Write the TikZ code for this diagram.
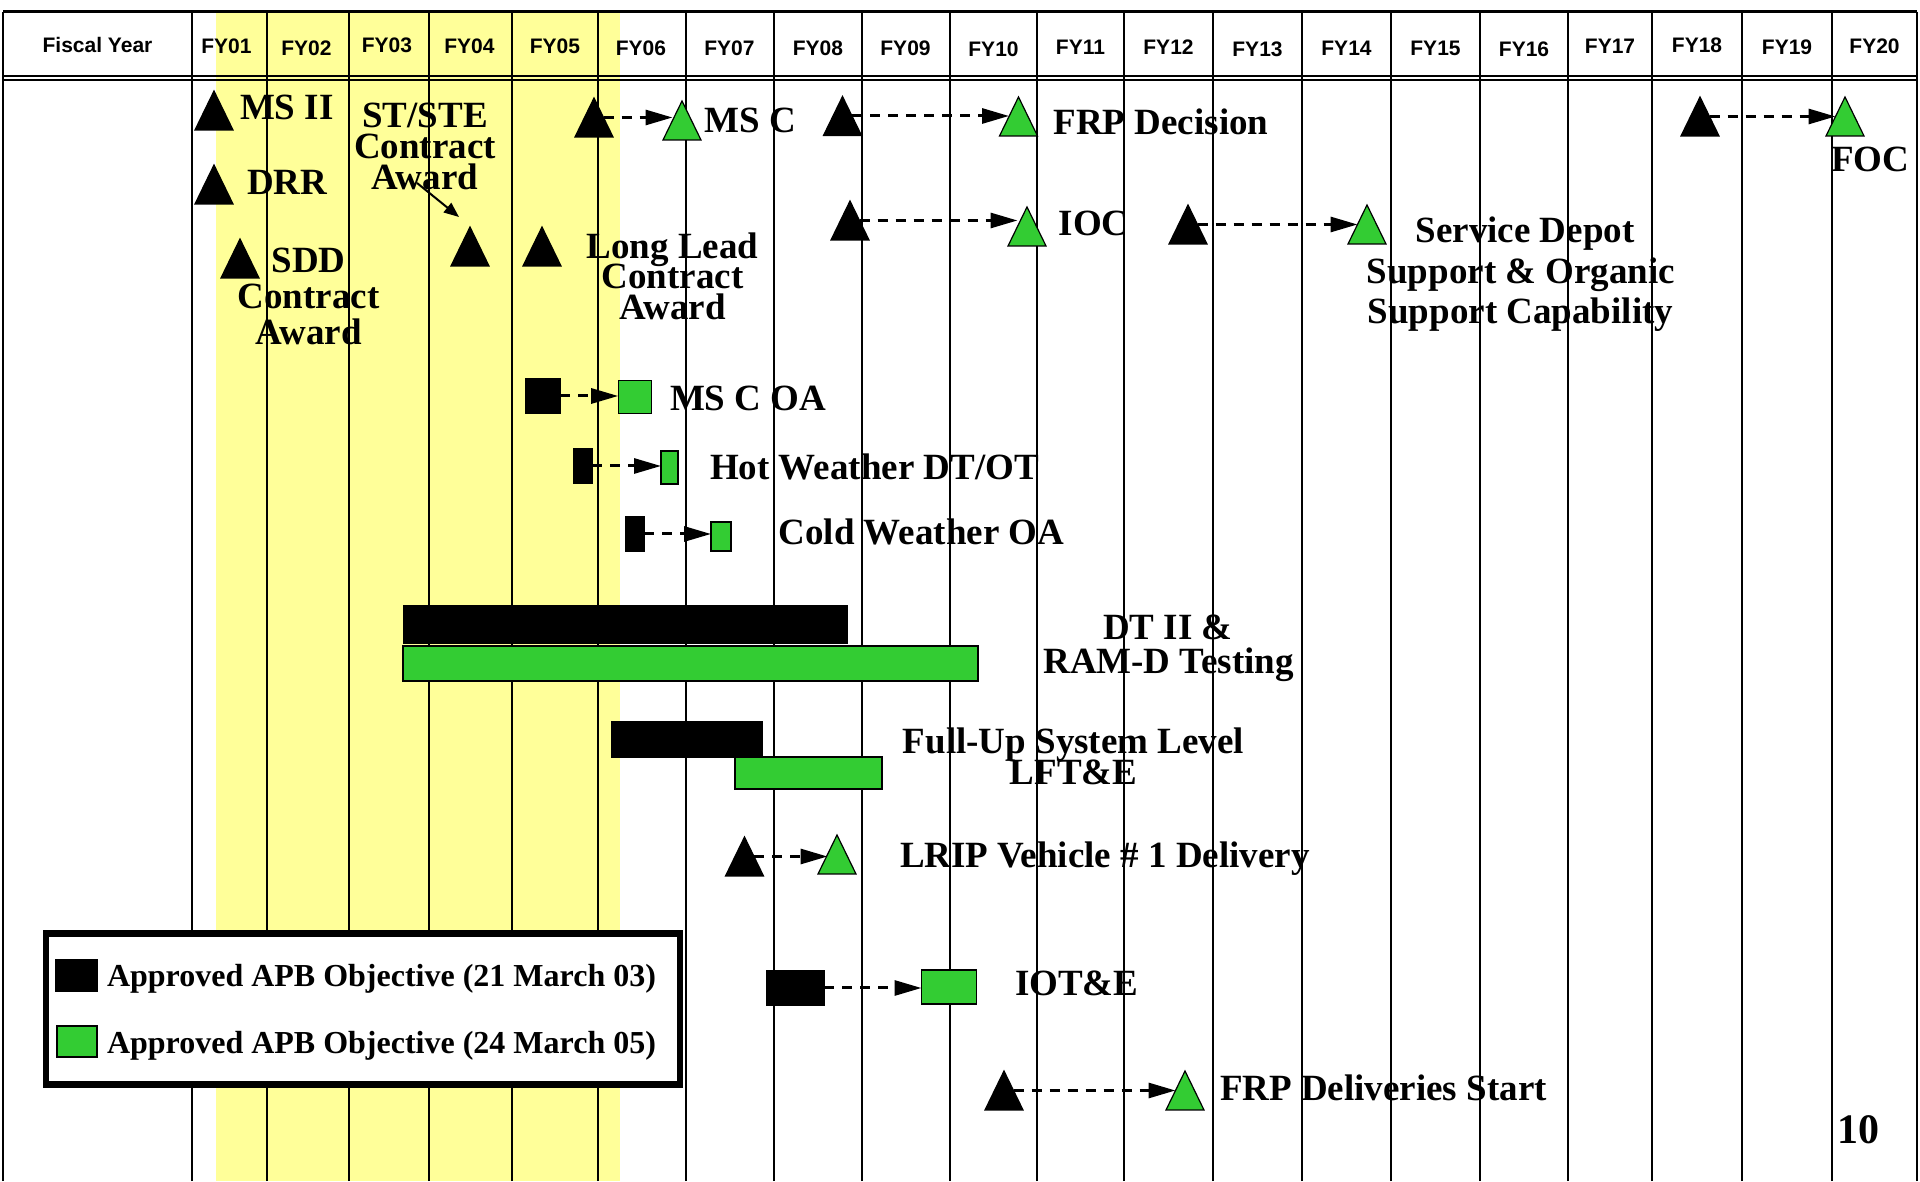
\documentclass[tikz,border=0pt]{standalone}
\usepackage{fontspec}
\setmainfont{Liberation Serif}
\setsansfont{Liberation Sans}
\usetikzlibrary{shapes.geometric,arrows.meta}

\begin{document}
\begin{tikzpicture}[x=1pt,y=1pt,
  oldTri/.style={isosceles triangle,isosceles triangle stretches,shape border rotate=90,
    minimum width=38pt,minimum height=39pt,inner sep=0pt,outer sep=0pt,
    draw=drawColor,line width=1.2pt,fill=drawColor,anchor=lower side},
  newTri/.style={oldTri,fill=newColor},
  oldBox/.style={rectangle,inner sep=0pt,outer sep=0pt,draw=drawColor,line width=1.2pt,fill=drawColor},
  newBox/.style={oldBox,fill=newColor},
  dashArrow/.style={draw=drawColor,line width=3pt,dash pattern=on 10pt off 8pt,
    -{Triangle[length=27pt,width=15pt]}},
  lbl/.style={text=drawColor,inner sep=0pt,outer sep=0pt,font=\bfseries,scale=3.7},
  headLbl/.style={text=drawColor,anchor=base,inner sep=0pt,outer sep=0pt,
    font=\sffamily\bfseries,scale=2.1}]
\definecolor{fillColor}{RGB}{255,255,255}
\definecolor{drawColor}{RGB}{0,0,0}
\definecolor{newColor}{RGB}{51,204,51}
\definecolor{bandColor}{RGB}{255,255,153}
\path[use as bounding box,fill=fillColor] (0,0) rectangle (1920,1181);

% shaded years FY01-FY05
\path[fill=bandColor] (216,0) rectangle (620,1169.3);

% frame and header rules
\path[draw=drawColor,line width= 2.5pt,line join=round] (   3,1169.3) -- (1917,1169.3);
\path[draw=drawColor,line width= 2.0pt,line join=round] (   3,1105.0) -- (1917,1105.0);
\path[draw=drawColor,line width= 2.0pt,line join=round] (   3,1100.5) -- (1917,1100.5);
\path[draw=drawColor,line width= 2.5pt,line join=round] (   3,   0.0) -- (   3,1169.3);
\path[draw=drawColor,line width= 2.5pt,line join=round] (1917,   0.0) -- (1917,1169.3);

% year columns
\path[draw=drawColor,line width= 2.0pt,line join=round] ( 192,0) -- ( 192,1169.3);
\path[draw=drawColor,line width= 2.0pt,line join=round] ( 267,0) -- ( 267,1169.3);
\path[draw=drawColor,line width= 2.0pt,line join=round] ( 349,0) -- ( 349,1169.3);
\path[draw=drawColor,line width= 2.0pt,line join=round] ( 429,0) -- ( 429,1169.3);
\path[draw=drawColor,line width= 2.0pt,line join=round] ( 512,0) -- ( 512,1169.3);
\path[draw=drawColor,line width= 2.0pt,line join=round] ( 598,0) -- ( 598,1169.3);
\path[draw=drawColor,line width= 2.0pt,line join=round] ( 686,0) -- ( 686,1169.3);
\path[draw=drawColor,line width= 2.0pt,line join=round] ( 774,0) -- ( 774,1169.3);
\path[draw=drawColor,line width= 2.0pt,line join=round] ( 862,0) -- ( 862,1169.3);
\path[draw=drawColor,line width= 2.0pt,line join=round] ( 950,0) -- ( 950,1169.3);
\path[draw=drawColor,line width= 2.0pt,line join=round] (1037,0) -- (1037,1169.3);
\path[draw=drawColor,line width= 2.0pt,line join=round] (1124,0) -- (1124,1169.3);
\path[draw=drawColor,line width= 2.0pt,line join=round] (1213,0) -- (1213,1169.3);
\path[draw=drawColor,line width= 2.0pt,line join=round] (1302,0) -- (1302,1169.3);
\path[draw=drawColor,line width= 2.0pt,line join=round] (1391,0) -- (1391,1169.3);
\path[draw=drawColor,line width= 2.0pt,line join=round] (1480,0) -- (1480,1169.3);
\path[draw=drawColor,line width= 2.0pt,line join=round] (1568,0) -- (1568,1169.3);
\path[draw=drawColor,line width= 2.0pt,line join=round] (1652,0) -- (1652,1169.3);
\path[draw=drawColor,line width= 2.0pt,line join=round] (1742,0) -- (1742,1169.3);
\path[draw=drawColor,line width= 2.0pt,line join=round] (1832,0) -- (1832,1169.3);

% header
\node[headLbl] (hdFiscal) at (  97.5,1128.0) {Fiscal Year};
\node[headLbl] (hdFY01) at ( 226.5,1127.0) {FY01};
\node[headLbl] (hdFY02) at ( 306.5,1125.3) {FY02};
\node[headLbl] (hdFY03) at ( 387.0,1128.3) {FY03};
\node[headLbl] (hdFY04) at ( 469.5,1127.0) {FY04};
\node[headLbl] (hdFY05) at ( 555.0,1127.0) {FY05};
\node[headLbl] (hdFY06) at ( 641.0,1125.5) {FY06};
\node[headLbl] (hdFY07) at ( 729.5,1125.5) {FY07};
\node[headLbl] (hdFY08) at ( 818.0,1125.5) {FY08};
\node[headLbl] (hdFY09) at ( 905.5,1125.0) {FY09};
\node[headLbl] (hdFY10) at ( 993.5,1124.3) {FY10};
\node[headLbl] (hdFY11) at (1080.5,1126.0) {FY11};
\node[headLbl] (hdFY12) at (1168.5,1126.0) {FY12};
\node[headLbl] (hdFY13) at (1257.5,1124.3) {FY13};
\node[headLbl] (hdFY14) at (1346.5,1125.0) {FY14};
\node[headLbl] (hdFY15) at (1435.5,1125.0) {FY15};
\node[headLbl] (hdFY16) at (1524.0,1124.3) {FY16};
\node[headLbl] (hdFY17) at (1610.0,1127.0) {FY17};
\node[headLbl] (hdFY18) at (1697.0,1128.5) {FY18};
\node[headLbl] (hdFY19) at (1787.0,1126.0) {FY19};
\node[headLbl] (hdFY20) at (1874.5,1127.0) {FY20};

% test bars
\path[fill=drawColor] (403,537.0) rectangle (848,576.0);
\path[draw=drawColor,fill=newColor,line width=2pt] (403,500.3) rectangle (978,535.3);
\path[fill=drawColor] (611,422.7) rectangle (763,460.3);
\path[draw=drawColor,fill=newColor,line width=2pt] (735,392.0) rectangle (882,424.3);

% milestones
\node[oldTri] (msTwoOld) at ( 214.0,1051.0) {};
\node[oldTri] (drrOld) at ( 214.0, 977.0) {};
\node[oldTri] (sddOld) at ( 240.0, 903.0) {};
\node[oldTri] (ststeOld) at ( 470.0, 915.0) {};
\node[oldTri] (llcOld) at ( 542.0, 915.0) {};
\node[oldTri] (msCOld) at ( 594.0,1044.0) {};
\node[newTri] (msCNew) at ( 682.0,1041.0) {};
\node[oldTri] (frpOld) at ( 842.5,1045.5) {};
\node[newTri] (frpNew) at (1018.5,1045.0) {};
\node[oldTri] (focOld) at (1700.0,1045.0) {};
\node[newTri] (focNew) at (1845.0,1045.0) {};
\node[oldTri] (iocOld) at ( 850.0, 941.0) {};
\node[newTri] (iocNew) at (1027.0, 935.0) {};
\node[oldTri] (depotOld) at (1188.0, 937.0) {};
\node[newTri] (depotNew) at (1367.0, 937.0) {};
\node[oldTri] (lripOld) at ( 744.5, 305.0) {};
\node[newTri] (lripNew) at ( 837.0, 307.0) {};
\node[oldTri] (frpDelOld) at (1004.0,  71.0) {};
\node[newTri] (frpDelNew) at (1185.0,  71.0) {};

% test events
\node[oldBox,minimum width=34pt,minimum height=34pt] (msCoaOld) at (543.0,785.0) {};
\node[newBox,minimum width=33pt,minimum height=33pt] (msCoaNew) at (634.7,784.0) {};
\node[oldBox,minimum width=18pt,minimum height=34pt] (hotOld) at (583.0,715.0) {};
\node[newBox,minimum width=17pt,minimum height=33pt] (hotNew) at (669.5,713.5) {};
\node[oldBox,minimum width=18pt,minimum height=34pt] (coldOld) at (635.0,647.0) {};
\node[newBox,minimum width=20pt,minimum height=29pt] (coldNew) at (721.0,644.5) {};
\node[oldBox,minimum width=57pt,minimum height=34pt] (iotOld) at (795.5,193.0) {};
\node[newBox,minimum width=55pt,minimum height=34pt] (iotNew) at (949.0,194.0) {};

% slips
\draw[dashArrow] (msCOld.right side) -- (msCOld.right side -| msCNew.left side);
\draw[dashArrow] (frpOld.right side) -- (frpOld.right side -| frpNew.left side);
\draw[dashArrow] (focOld.right side) -- (focOld.right side -| focNew.left side);
\draw[dashArrow] (iocOld.right side) -- (iocOld.right side -| iocNew.left side);
\draw[dashArrow] (depotOld.right side) -- (depotOld.right side -| depotNew.left side);
\draw[dashArrow] (lripOld.right side) -- (lripOld.right side -| lripNew.left side);
\draw[dashArrow] (frpDelOld.right side) -- (frpDelOld.right side -| frpDelNew.left side);
\draw[dashArrow] (msCoaOld.east) -- (msCoaOld.east -| msCoaNew.west);
\draw[dashArrow] (hotOld.east) -- (hotOld.east -| hotNew.west);
\draw[dashArrow] (coldOld.east) -- (coldOld.east -| coldNew.west);
\draw[dashArrow] (iotOld.east) -- (iotOld.east -| iotNew.west);

% labels
\node[lbl,anchor=base west] (msTwoLbl) at ( 240.0,1061.0) {MS II};
\node[lbl,anchor=base west] (drrLbl) at ( 247.0, 986.0) {DRR};
\node[lbl,anchor=base] (ststeLblA) at ( 425.0,1053.0) {ST/STE};
\node[lbl,anchor=base] (ststeLblB) at ( 425.0,1022.7) {Contract};
\node[lbl,anchor=base] (ststeLblC) at ( 425.0, 991.0) {Award};
\node[lbl,anchor=base] (sddLblA) at ( 308.5, 908.3) {SDD};
\node[lbl,anchor=base] (sddLblB) at ( 308.5, 872.7) {Contract};
\node[lbl,anchor=base] (sddLblC) at ( 308.5, 836.0) {Award};
\node[lbl,anchor=base] (llcLblA) at ( 672.5, 922.7) {Long Lead};
\node[lbl,anchor=base] (llcLblB) at ( 672.5, 892.7) {Contract};
\node[lbl,anchor=base] (llcLblC) at ( 672.5, 861.7) {Award};
\node[lbl,anchor=base west] (msCLbl) at ( 704.5,1048.0) {MS C};
\node[lbl,anchor=base west] (frpLbl) at (1053.6,1046.0) {FRP Decision};
\node[lbl,anchor=base west] (focLbl) at (1831.0,1009.3) {FOC};
\node[lbl,anchor=base west] (iocLbl) at (1058.6, 945.0) {IOC};
\node[lbl,anchor=base] (depotLblA) at (1525.0, 938.0) {Service Depot};
\node[lbl,anchor=base] (depotLblB) at (1521.0, 897.0) {Support \& Organic};
\node[lbl,anchor=base] (depotLblC) at (1520.5, 857.0) {Support Capability};
\node[lbl,anchor=base west] (msCoaLbl) at ( 670.0, 770.3) {MS C OA};
\node[lbl,anchor=base west] (hotLbl) at ( 710.0, 701.0) {Hot Weather DT/OT};
\node[lbl,anchor=base west] (coldLbl) at ( 778.6, 636.0) {Cold Weather OA};
\node[lbl,anchor=base] (dtLblA) at (1168.0, 541.0) {DT II \&};
\node[lbl,anchor=base] (dtLblB) at (1168.5, 507.7) {RAM-D Testing};
\node[lbl,anchor=base] (fuLblA) at (1073.5, 427.7) {Full-Up System Level};
\node[lbl,anchor=base] (fuLblB) at (1073.5, 396.0) {LFT\&E};
\node[lbl,anchor=base west] (lripLbl) at ( 900.0, 313.7) {LRIP Vehicle \# 1 Delivery};
\node[lbl,anchor=base west] (iotLbl) at (1015.0, 185.0) {IOT\&E};
\node[lbl,anchor=base west] (frpDelLbl) at (1220.0,  81.0) {FRP Deliveries Start};
\node[lbl,anchor=base west,scale=4.2/3.7] (pageLbl) at (1837.0, 38.0) {10};

\draw[draw=drawColor,line width=2pt,-{Triangle[length=15pt,width=12pt]}]
  ([xshift=-8pt,yshift=7pt]ststeLblC.base) -- ([xshift=-11pt,yshift=10pt]ststeOld.apex);

% legend
\path[draw=drawColor,fill=fillColor,line width=6.5pt] (46.2,96.3) rectangle (680.2,247.7);
\node[oldBox,minimum width=41pt,minimum height=32pt] (legOld) at (76.5,205.2) {};
\node[newBox,minimum width=40pt,minimum height=31pt] (legNew) at (77.0,139.5) {};
\node[lbl,anchor=base west,scale=3.2/3.7] (legOldLbl) at (107.0,194.0) {Approved APB Objective (21 March 03)};
\node[lbl,anchor=base west,scale=3.2/3.7] (legNewLbl) at (107.0,127.7) {Approved APB Objective (24 March 05)};
\end{tikzpicture}
\end{document}
